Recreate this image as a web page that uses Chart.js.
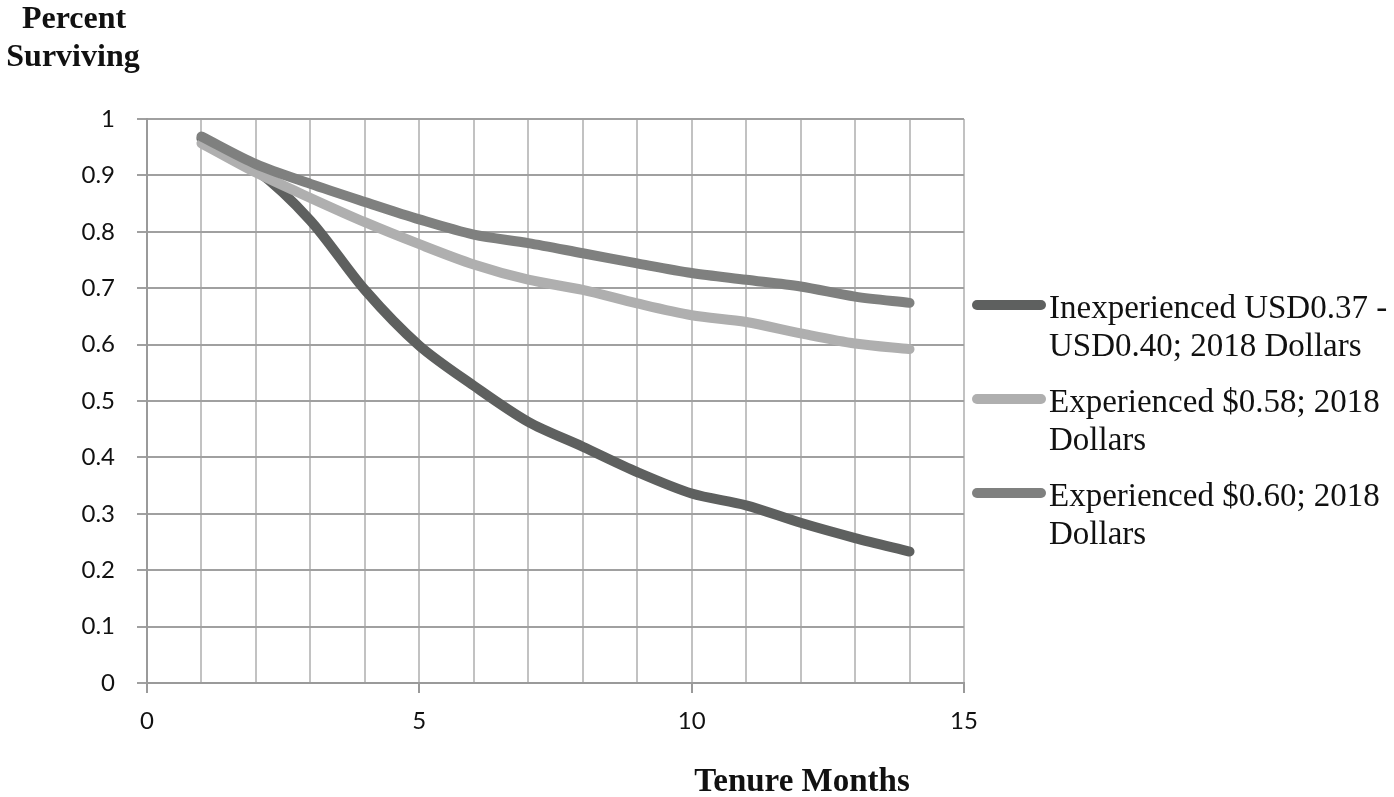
<!DOCTYPE html>
<html>
<head>
<meta charset="utf-8">
<script src="https://cdn.jsdelivr.net/npm/chart.js@4/dist/chart.umd.min.js"></script>
<style>
  html, body { margin: 0; padding: 0; background: #ffffff; }
  #wrap { width: 1394px; height: 797px; position: relative; }
</style>
</head>
<body>
<div id="wrap"><canvas id="c" width="1394" height="797"></canvas></div>
<script>
// ---- Data ----
const months = [1, 2, 3, 4, 5, 6, 7, 8, 9, 10, 11, 12, 13, 14];
const inexperienced = [0.965, 0.91, 0.82, 0.697, 0.598, 0.527, 0.463, 0.419, 0.374, 0.336, 0.315, 0.284, 0.257, 0.233];
const experienced058 = [0.957, 0.905, 0.86, 0.817, 0.778, 0.742, 0.715, 0.697, 0.673, 0.652, 0.640, 0.620, 0.602, 0.592];
const experienced060 = [0.969, 0.92, 0.885, 0.853, 0.822, 0.795, 0.78, 0.762, 0.744, 0.727, 0.715, 0.703, 0.685, 0.674];
const seriesLabels = [
  ['Inexperienced USD0.37 -', 'USD0.40; 2018 Dollars'],
  ['Experienced $0.58; 2018', 'Dollars'],
  ['Experienced $0.60; 2018', 'Dollars']
];
const seriesColors = ['#5e605f', '#afafaf', '#7f807f'];
const yTitle = ['Percent', 'Surviving'];
const xTitle = 'Tenure Months';

function pts(vals) { return months.map((m, i) => ({ x: m, y: vals[i] })); }

const seriesValues = [inexperienced, experienced058, experienced060];
const drawOrder = [2, 1, 0];

const datasets = seriesValues.map((vals, i) => ({
  label: seriesLabels[i].join(' '),
  data: pts(vals),
  borderColor: seriesColors[i],
  backgroundColor: seriesColors[i],
  borderWidth: 10,
  borderCapStyle: 'round',
  borderJoinStyle: 'round',
  pointRadius: 0,
  pointHoverRadius: 0,
  tension: 0.3,
  fill: false,
  order: drawOrder[i]
}));

const decorPlugin = {
  id: 'decor',
  afterDraw(chart) {
    const ctx = chart.ctx;
    ctx.save();
    ctx.fillStyle = '#111111';
    ctx.textAlign = 'center';
    ctx.textBaseline = 'alphabetic';
    ctx.font = 'bold 32px "Liberation Serif", "Times New Roman", serif';
    ctx.fillText(yTitle[0], 74, 28);
    ctx.fillText(yTitle[1], 73, 66);
    ctx.font = 'bold 33px "Liberation Serif", "Times New Roman", serif';
    ctx.fillText(xTitle, 802, 791);

    // legend
    const baseY = [318, 412, 506];
    ctx.textAlign = 'left';
    ctx.font = '33px "Liberation Serif", "Times New Roman", serif';
    seriesLabels.forEach((lines, i) => {
      const by = baseY[i];
      ctx.strokeStyle = seriesColors[i];
      ctx.lineWidth = 10;
      ctx.lineCap = 'round';
      ctx.beginPath();
      ctx.moveTo(977, by - 13);
      ctx.lineTo(1041, by - 13);
      ctx.stroke();
      ctx.fillStyle = '#111111';
      lines.forEach((ln, j) => ctx.fillText(ln, 1049, by + j * 38));
    });
    ctx.restore();
  }
};

new Chart(document.getElementById('c'), {
  type: 'line',
  data: { datasets },
  options: {
    responsive: false,
    animation: false,
    layout: { padding: { left: 0, right: 430, top: 119, bottom: 0 } },
    plugins: {
      legend: { display: false },
      tooltip: { enabled: false },
      title: { display: false }
    },
    scales: {
      x: {
        type: 'linear',
        min: 0,
        max: 15,
        afterFit(s) { s.height = 114; },
        ticks: {
          stepSize: 1,
          autoSkip: false,
          maxRotation: 0,
          padding: 14,
          color: '#111111',
          font: { family: 'Lato, "Noto Sans", sans-serif', size: 24 },
          callback: v => (v % 5 === 0 ? String(v) : '')
        },
        grid: {
          color: '#c2c2c2',
          lineWidth: 2,
          tickLength: 10,
          tickColor: c => (c.tick && c.tick.value % 5 === 0 ? '#9a9a9a' : 'rgba(0,0,0,0)')
        },
        border: { color: '#9a9a9a', width: 2 }
      },
      y: {
        min: 0,
        max: 1,
        afterFit(s) { s.width = 147; },
        ticks: {
          stepSize: 0.1,
          padding: 22,
          color: '#111111',
          font: { family: 'Lato, "Noto Sans", sans-serif', size: 24 },
          callback: v => String(+Number(v).toFixed(1))
        },
        grid: {
          color: '#a0a0a0',
          lineWidth: 2,
          tickLength: 10,
          tickColor: '#a0a0a0'
        },
        border: { color: '#9a9a9a', width: 2 }
      }
    }
  },
  plugins: [decorPlugin]
});
</script>
</body>
</html>
